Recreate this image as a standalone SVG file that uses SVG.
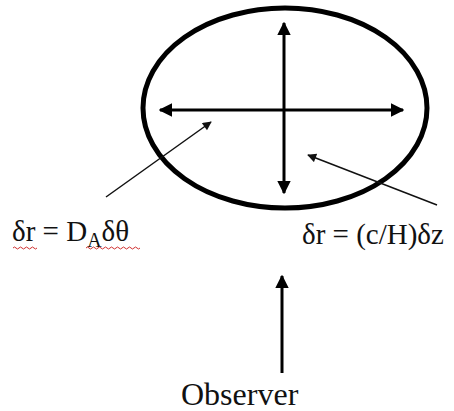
<svg xmlns="http://www.w3.org/2000/svg" width="454" height="411" viewBox="0 0 454 411">
<style>
.t{font-family:"Liberation Serif","Times New Roman",serif;font-size:29px;fill:#111}
.obs{font-size:32px}
.thick{stroke:#000;stroke-width:3;fill:none}
.thin{stroke:#111;stroke-width:1.5;fill:none}
.sq{stroke:#d03030;stroke-width:1;fill:none}
</style>
<defs>
<marker id="big" viewBox="0 0 10 10" refX="9" refY="5" markerWidth="4.5" markerHeight="4.5" orient="auto-start-reverse" markerUnits="strokeWidth">
<path d="M0,0 L10,5 L0,10 Z" fill="#000"/>
</marker>
<marker id="small" viewBox="0 0 10 10" refX="9" refY="5" markerWidth="7" markerHeight="6" orient="auto" markerUnits="strokeWidth">
<path d="M0,0 L10,5 L0,10 Z" fill="#111"/>
</marker>
</defs>
<g id="ellipse">
<ellipse cx="285" cy="108" rx="142" ry="100" fill="none" stroke="#000" stroke-width="5"/>
</g>
<g id="connectors">
<line class="thick" x1="284" y1="23" x2="284" y2="193" marker-start="url(#big)" marker-end="url(#big)"/>
<line class="thick" x1="160" y1="110" x2="403" y2="110" marker-start="url(#big)" marker-end="url(#big)"/>
<line class="thin" x1="106" y1="197" x2="211" y2="122" marker-end="url(#small)"/>
<line class="thin" x1="437" y1="205" x2="308" y2="155" marker-end="url(#small)"/>
<line class="thick" x1="282" y1="373" x2="282" y2="276" marker-end="url(#big)"/>
</g>
<g id="label-left">
<text class="t" x="12" y="241">δr = D<tspan font-size="20" dy="6">A</tspan><tspan dy="-6">δθ</tspan></text>
<path class="sq" d="M13,248 q1.5,-2 3,0 t3,0 t3,0 t3,0 t3,0 t3,0 t3,0 t3,0"/>
<path class="sq" d="M86,248 q1.5,-2 3,0 t3,0 t3,0 t3,0 t3,0 t3,0 t3,0 t3,0 t3,0 t3,0 t3,0 t3,0 t3,0 t3,0 t3,0 t3,0 t3,0 t3,0"/>
</g>
<g id="label-right">
<text class="t" x="302" y="244">δr = (c/H)δz</text>
</g>
<g id="observer">
<text class="t obs" x="181" y="405">Observer</text>
</g>
</svg>
